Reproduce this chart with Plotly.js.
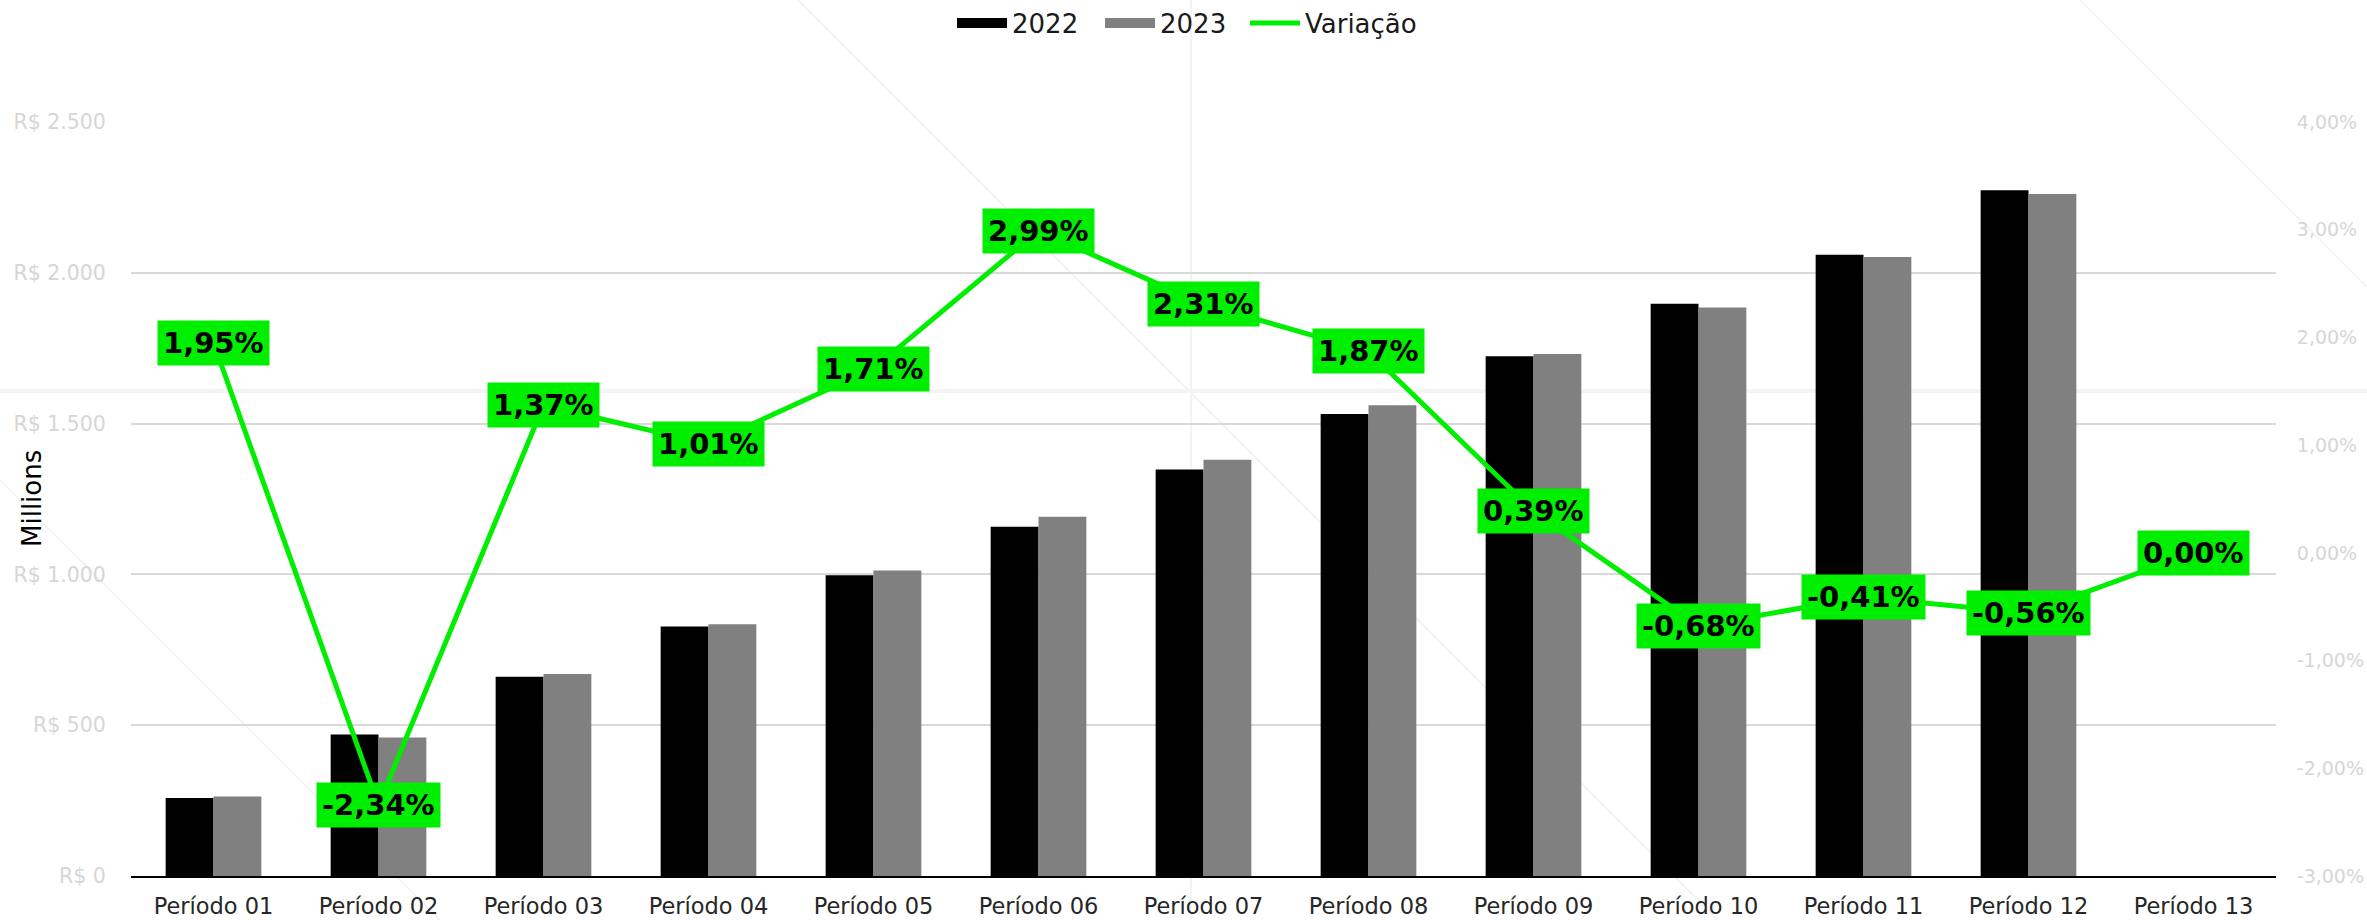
<!DOCTYPE html>
<html>
<head>
<meta charset="utf-8">
<script src="https://cdn.plot.ly/plotly-3.0.1.min.js"></script>
<style>html,body{margin:0;padding:0;background:#fff;}#chart{width:2367px;height:920px;}</style>
</head>
<body>
<div id="chart"></div>
<script>
const categories = ["Período 01","Período 02","Período 03","Período 04","Período 05","Período 06","Período 07","Período 08","Período 09","Período 10","Período 11","Período 12","Período 13"];
const values2022 = [259, 469, 661, 827, 997, 1158, 1348, 1532, 1723, 1897, 2060, 2274, null];
const values2023 = [264, 459, 670, 835, 1013, 1191, 1380, 1561, 1731, 1885, 2052, 2261, null];
const variationPct = [1.95, -2.34, 1.37, 1.01, 1.71, 2.99, 2.31, 1.87, 0.39, -0.68, -0.41, -0.56, 0.00];
const seriesNames = ["2022", "2023", "Variação"];
const leftTicks = [0, 500, 1000, 1500, 2000, 2500];
const rightTicks = [-3, -2, -1, 0, 1, 2, 3, 4];

const GREEN = '#00ee00';
const FONT = 'DejaVu Sans, Verdana, sans-serif';
const fmtPct = v => v.toFixed(2).replace('.', ',') + '%';
const fmtMoney = v => 'R$ ' + v.toLocaleString('de-DE');

const variationFrac = variationPct.map(v => v / 100);

const traces = [
  {type:'bar', name:seriesNames[0], x:categories, y:values2022, marker:{color:'#000000'}, showlegend:false, legendgroup:'a', hoverinfo:'y'},
  {type:'bar', name:seriesNames[1], x:categories, y:values2023, marker:{color:'#808080'}, showlegend:false, legendgroup:'b', hoverinfo:'y'},
  {type:'scatter', mode:'lines', name:seriesNames[0], x:[categories[0]], y:[null], line:{color:'#000000', width:15}, legendgroup:'a', showlegend:true, legend:'legend'},
  {type:'scatter', mode:'lines', name:seriesNames[1], x:[categories[0]], y:[null], line:{color:'#808080', width:15}, legendgroup:'b', showlegend:true, legend:'legend2'},
  {type:'scatter', mode:'lines', name:seriesNames[2], x:categories, y:variationFrac, yaxis:'y2', line:{color:GREEN, width:5}, cliponaxis:false, legend:'legend3'}
];

const annotations = categories.map((c, i) => ({
  x: c, y: variationFrac[i], xref:'x', yref:'y2', xanchor:'center', yanchor:'middle',
  text: fmtPct(variationPct[i]), showarrow:false,
  bgcolor: GREEN, borderpad: 5,
  font:{family:FONT, size:29, color:'#000000', weight:'bold'}
}));
annotations.push({
  xref:'paper', yref:'paper', x:(32-131)/2145, y:0.5, xanchor:'center', yanchor:'middle', textangle:-90, showarrow:false,
  text:'Millions', font:{family:FONT, size:26, color:'#000000'}
});

const faint = '#f4f4f4';
const L = 131, PW = 2145, B = 876, PH = 754;
const px = X => (X - L) / PW;
const py = Y => (B - Y) / PH;
const shapes = [
  {type:'line', xref:'paper', yref:'paper', x0:px(0), x1:px(2367), y0:py(391), y1:py(391), line:{color:faint, width:4}, layer:'below'},
  {type:'line', xref:'paper', yref:'paper', x0:px(1191), x1:px(1191), y0:py(0), y1:py(920), line:{color:faint, width:2}, layer:'below'},
  {type:'line', xref:'paper', yref:'paper', x0:px(798), x1:px(1718), y0:py(0), y1:py(920), line:{color:faint, width:2}, layer:'below'},
  {type:'line', xref:'paper', yref:'paper', x0:px(2080), x1:px(2367), y0:py(0), y1:py(287), line:{color:faint, width:2}, layer:'below'},
  {type:'line', xref:'paper', yref:'paper', x0:px(0), x1:px(440), y0:py(480), y1:py(920), line:{color:faint, width:2}, layer:'below'}
];

const legendBase = (xPix) => ({
  orientation:'h', xref:'container', x:xPix/2367, xanchor:'left', yref:'container', y:1-23/920, yanchor:'middle',
  font:{family:FONT, size:26, color:'#1a1a1a'}, itemwidth:50, bgcolor:'rgba(0,0,0,0)'
});

const layout = {
  width:2367, height:920,
  margin:{l:131, r:91, t:122, b:44, pad:0, autoexpand:false},
  paper_bgcolor:'#ffffff', plot_bgcolor:'rgba(0,0,0,0)',
  separators:',.',
  barmode:'group', bargap:0.42, bargroupgap:0,
  font:{family:FONT, color:'#262626'},
  showlegend:true,
  legend: legendBase(952),
  legend2: legendBase(1100),
  legend3: legendBase(1245),
  xaxis:{type:'category', showline:true, linecolor:'#000000', linewidth:2, showgrid:false, automargin:false,
         ticks:'outside', ticklen:9, tickcolor:'rgba(0,0,0,0)',
         tickfont:{family:FONT, size:22.5, color:'#262626'}, zeroline:false, fixedrange:true},
  yaxis:{range:[0,2500], tickvals:leftTicks, ticktext:leftTicks.map(fmtMoney), automargin:false,
         showgrid:true, gridcolor:'#d9d9d9', gridwidth:2, zeroline:false, showline:false,
         ticks:'outside', ticklen:20, tickcolor:'rgba(0,0,0,0)',
         tickfont:{family:FONT, size:20.5, color:'#d6d6d6'}, fixedrange:true},
  yaxis2:{overlaying:'y', side:'right', range:[-0.03,0.04], tickvals:rightTicks.map(v=>v/100), automargin:false,
          ticktext:rightTicks.map(fmtPct), showgrid:false, zeroline:false, showline:false,
          ticks:'outside', ticklen:16, tickcolor:'rgba(0,0,0,0)',
          tickfont:{family:FONT, size:19, color:'#d6d6d6'}, fixedrange:true},
  annotations: annotations,
  shapes: shapes
};

Plotly.newPlot('chart', traces, layout, {displayModeBar:false, staticPlot:true});
</script>
</body>
</html>
